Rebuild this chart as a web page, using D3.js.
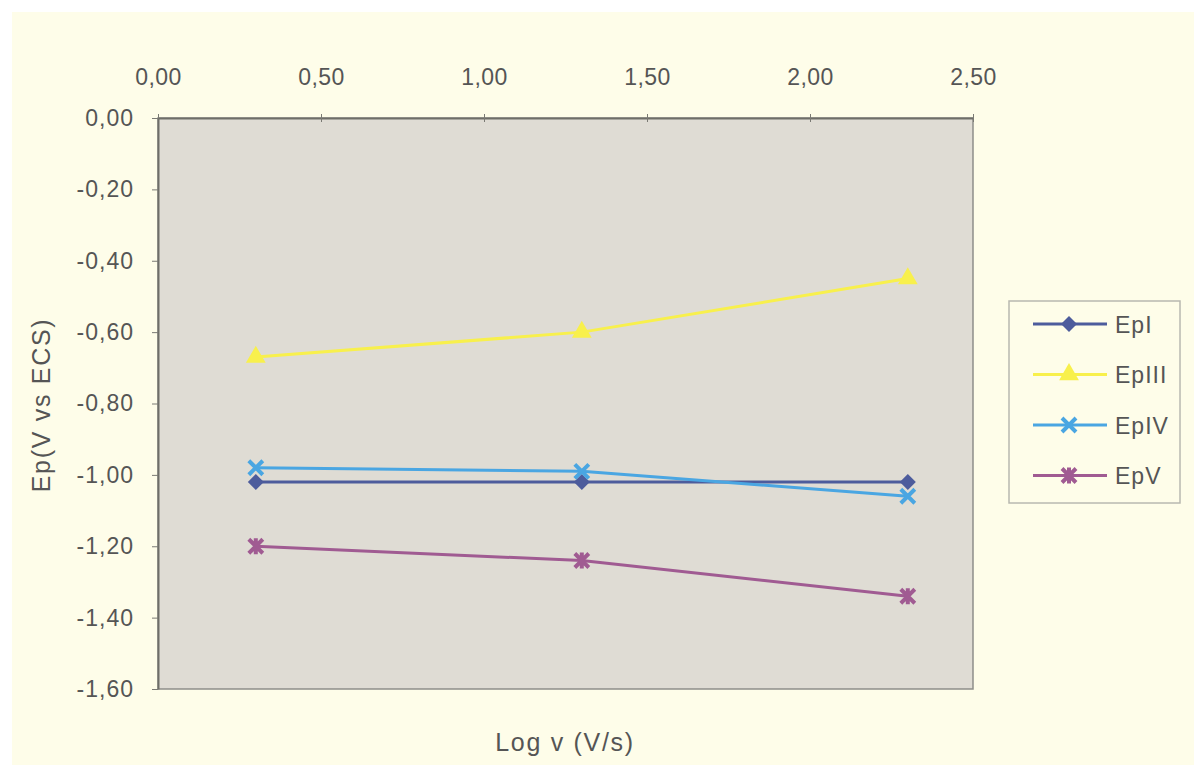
<!DOCTYPE html>
<html>
<head>
<meta charset="utf-8">
<script src="https://cdn.jsdelivr.net/npm/d3@7"></script>
<style>
  html, body { margin: 0; padding: 0; background: #ffffff; }
  svg { display: block; }
  text { font-family: "Liberation Sans", Arial, sans-serif; fill: #555555; }
</style>
</head>
<body>
<svg id="chart" width="1194" height="769"></svg>
<script>
// Peak potential vs log of scan rate
const logV = [0.30, 1.30, 2.30];
const epI   = [-1.02, -1.02, -1.02];
const epIII = [-0.67, -0.60, -0.45];
const epIV  = [-0.98, -0.99, -1.06];
const epV   = [-1.20, -1.24, -1.34];
const seriesNames = ["EpI", "EpIII", "EpIV", "EpV"];
const xTicks = [0, 0.5, 1, 1.5, 2, 2.5];
const yTicks = [0, -0.2, -0.4, -0.6, -0.8, -1.0, -1.2, -1.4, -1.6];

const series = [
  { name: seriesNames[0], values: epI,   color: "#4d5c9c", marker: "diamond" },
  { name: seriesNames[1], values: epIII, color: "#f8f04c", marker: "triangle" },
  { name: seriesNames[2], values: epIV,  color: "#4aa6e2", marker: "x" },
  { name: seriesNames[3], values: epV,   color: "#a05b92", marker: "star" }
];

const svg = d3.select("#chart");
// decimal comma, plain hyphen for negatives
const fmt = v => d3.format(".2f")(v).replace("\u2212", "-").replace(".", ",");

// chart area background
svg.append("rect").attr("x", 12).attr("y", 12).attr("width", 1182).attr("height", 753)
  .attr("fill", "#fefde9");

const plot = { left: 158, top: 118, right: 973, bottom: 689 };
const x = d3.scaleLinear().domain([0, 2.5]).range([plot.left, plot.right]);
const y = d3.scaleLinear().domain([0, -1.6]).range([plot.top, plot.bottom]);

// plot area
svg.append("rect")
  .attr("x", plot.left).attr("y", plot.top)
  .attr("width", plot.right - plot.left).attr("height", plot.bottom - plot.top)
  .attr("fill", "#dfdcd4").attr("stroke", "#8e8e8a").attr("stroke-width", 1.5);

// top x axis
const xAxis = svg.append("g").attr("transform", `translate(0,${plot.top})`)
  .call(d3.axisTop(x).tickValues(xTicks).tickFormat(fmt).tickSizeInner(4).tickSizeOuter(0).tickPadding(29));
xAxis.select(".domain").attr("stroke", "#6e6e68").attr("stroke-width", 2);
xAxis.selectAll(".tick line").attr("stroke", "#7a7a74").attr("y2", -4).attr("y1", 4);
xAxis.selectAll("text").attr("font-size", 23).attr("letter-spacing", 0.4).attr("fill", "#555");

// left y axis
const yAxis = svg.append("g").attr("transform", `translate(${plot.left},0)`)
  .call(d3.axisLeft(y).tickValues(yTicks).tickFormat(fmt).tickSizeInner(6).tickSizeOuter(0).tickPadding(18));
yAxis.select(".domain").attr("stroke", "#6e6e68").attr("stroke-width", 2);
yAxis.selectAll(".tick line").attr("stroke", "#7a7a74");
yAxis.selectAll("text").attr("font-size", 23).attr("letter-spacing", 1).attr("fill", "#555");

// axis titles
svg.append("text").attr("x", 565).attr("y", 751).attr("text-anchor", "middle")
  .attr("font-size", 25).attr("letter-spacing", 1.7).text("Log v (V/s)");
svg.append("text").attr("transform", "translate(50,405) rotate(-90)")
  .attr("text-anchor", "middle").attr("font-size", 25).attr("letter-spacing", 1.7).text("Ep(V vs ECS)");

// marker shapes
function drawMarker(g, type, color, cx, cy) {
  const s = 7;
  if (type === "diamond") {
    g.append("path").attr("d", `M${cx},${cy - s - 1}L${cx + s + 1},${cy}L${cx},${cy + s + 1}L${cx - s - 1},${cy}Z`)
      .attr("fill", color);
  } else if (type === "triangle") {
    g.append("path").attr("d", d3.symbol(d3.symbolTriangle, 170)()).attr("transform", `translate(${cx},${cy})`)
      .attr("fill", color);
  } else if (type === "x") {
    g.append("path").attr("d", `M${cx - s},${cy - s}L${cx + s},${cy + s}M${cx - s},${cy + s}L${cx + s},${cy - s}`)
      .attr("stroke", color).attr("stroke-width", 4);
  } else if (type === "star") {
    g.append("path").attr("d", `M${cx - s},${cy - s}L${cx + s},${cy + s}M${cx - s},${cy + s}L${cx + s},${cy - s}M${cx},${cy - s - 1}L${cx},${cy + s + 1}`)
      .attr("stroke", color).attr("stroke-width", 4);
  }
}

const line = d3.line().x(d => x(d[0])).y(d => y(d[1]));
series.forEach(s => {
  const pts = logV.map((v, i) => [v, s.values[i]]);
  const g = svg.append("g");
  g.append("path").attr("d", line(pts)).attr("fill", "none")
    .attr("stroke", s.color).attr("stroke-width", 3);
  pts.forEach(p => drawMarker(g, s.marker, s.color, x(p[0]), y(p[1])));
});

// legend
const lg = svg.append("g");
lg.append("rect").attr("x", 1009).attr("y", 301).attr("width", 171).attr("height", 202)
  .attr("fill", "#fefde9").attr("stroke", "#b8b8b0").attr("stroke-width", 1.5);
series.forEach((s, i) => {
  const cy = 324 + i * 50.5;
  lg.append("line").attr("x1", 1033).attr("x2", 1107).attr("y1", cy).attr("y2", cy)
    .attr("stroke", s.color).attr("stroke-width", 3);
  drawMarker(lg, s.marker, s.color, 1069, cy);
  lg.append("text").attr("x", 1115).attr("y", cy + 8.5).attr("font-size", 23)
    .attr("letter-spacing", 1).text(s.name);
});
</script>
</body>
</html>
